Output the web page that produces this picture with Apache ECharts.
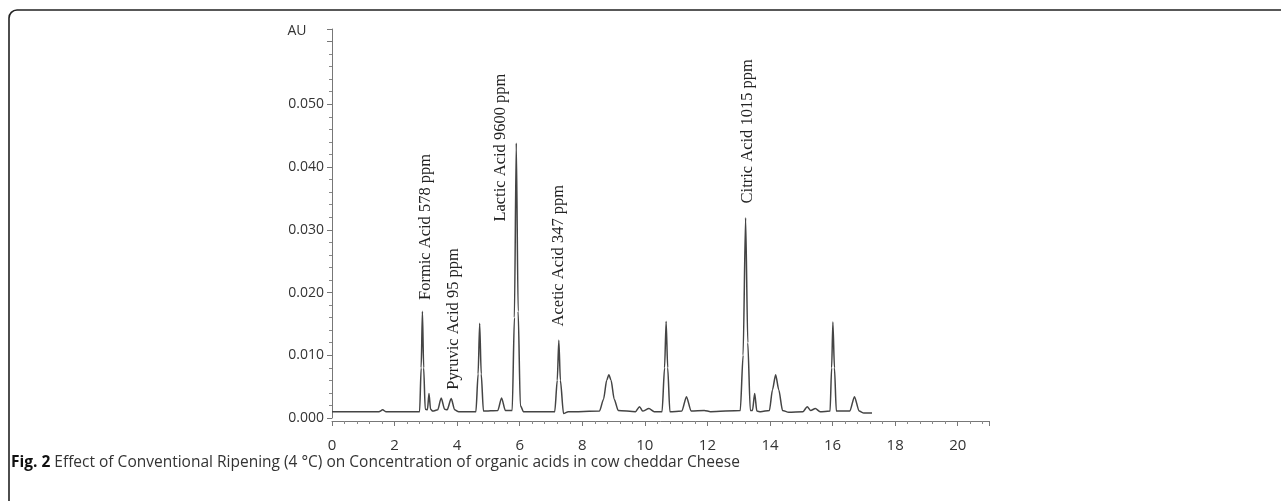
<!DOCTYPE html>
<html>
<head>
<meta charset="utf-8">
<script src="https://cdn.jsdelivr.net/npm/echarts@6/dist/echarts.min.js"></script>
<style>
html,body{margin:0;padding:0;background:#fff;}
#chart{width:1281px;height:501px;}
</style>
</head>
<body>
<div id="chart"></div>
<script>
// Retention time (min) and absorbance (AU)
var rt = [0.00,1.50,1.62,1.72,2.80,2.85,2.89,2.93,2.98,3.05,3.10,3.15,3.22,3.38,3.49,3.60,3.68,3.81,3.92,4.05,
  4.60,4.67,4.72,4.77,4.84,5.30,5.42,5.54,5.76,5.83,5.89,5.95,6.02,6.12,7.12,7.20,7.25,7.30,7.40,7.55,
  8.55,8.68,8.78,8.85,8.92,9.02,9.15,9.70,9.83,9.93,10.13,10.30,10.55,10.63,10.68,10.73,10.80,11.18,11.33,11.48,
  11.90,12.10,13.05,13.14,13.22,13.29,13.37,13.44,13.51,13.58,13.70,13.98,14.08,14.18,14.28,14.40,14.60,15.05,15.19,15.30,
  15.45,15.60,15.92,15.97,16.01,16.06,16.12,16.55,16.70,16.85,17.00,17.26];
var au = [0.0010,0.0010,0.0013,0.0010,0.0010,0.0080,0.0170,0.0080,0.0014,0.0013,0.0039,0.0014,0.0011,0.0013,0.0032,0.0014,0.0013,0.0031,0.0013,0.0010,
  0.0010,0.0070,0.0151,0.0070,0.0011,0.0012,0.0032,0.0012,0.0012,0.0160,0.0438,0.0170,0.0020,0.0010,0.0010,0.0060,0.0124,0.0060,0.0007,0.0010,
  0.0011,0.0030,0.0060,0.0069,0.0060,0.0030,0.0012,0.0010,0.0018,0.0011,0.0015,0.0010,0.0010,0.0080,0.0154,0.0080,0.0010,0.0011,0.0034,0.0011,
  0.0012,0.0010,0.0012,0.0100,0.0319,0.0120,0.0012,0.0012,0.0039,0.0011,0.0010,0.0012,0.0045,0.0069,0.0045,0.0012,0.0009,0.0010,0.0018,0.0012,
  0.0015,0.0010,0.0011,0.0080,0.0153,0.0080,0.0011,0.0011,0.0034,0.0011,0.0008,0.0008];

// Peak annotations: text, retention time of label, AU at label bottom
var peakLabels = ['Formic Acid 578 ppm','Pyruvic Acid 95 ppm','Lactic Acid 9600 ppm','Acetic Acid 347 ppm','Citric Acid 1015 ppm'];
var labelRt = [2.98, 3.90, 5.40, 7.26, 13.29];
var labelAu = [0.0188, 0.0045, 0.0313, 0.0146, 0.0342];

var xTicks = {min: 0, max: 21, interval: 2};
var yTicks = {min: 0, max: 0.062, interval: 0.01};

var caption = 'Effect of Conventional Ripening (4 \u00B0C) on Concentration of organic acids in cow cheddar Cheese';

var chart = echarts.init(document.getElementById('chart'));
var data = rt.map(function (t, i) { return [t, au[i]]; });

chart.setOption({
  animation: false,
  backgroundColor: '#fff',
  grid: {left: 332, right: 292, top: 29, bottom: 83, containLabel: false},
  xAxis: {
    type: 'value', min: xTicks.min, max: xTicks.max, interval: xTicks.interval,
    offset: 3,
    axisLine: {onZero: false, lineStyle: {color: '#777', width: 1}},
    axisTick: {show: true, length: 5, lineStyle: {color: '#777'}},
    minorTick: {show: true, splitNumber: 5, length: 3, lineStyle: {color: '#888'}},
    splitLine: {show: false},
    axisLabel: {
      margin: 17, color: '#333', fontSize: 15, fontFamily: 'Open Sans',
      showMaxLabel: false,
      formatter: function (v) { return v > 20 ? '' : String(v); }
    }
  },
  yAxis: {
    type: 'value', min: yTicks.min, max: yTicks.max, interval: yTicks.interval,
    axisLine: {show: true, lineStyle: {color: '#777', width: 1}},
    axisTick: {show: true, length: 5, lineStyle: {color: '#777'}},
    minorTick: {show: true, splitNumber: 5, length: 3, lineStyle: {color: '#888'}},
    splitLine: {show: false},
    axisLabel: {
      margin: 8, color: '#333', fontSize: 14, fontFamily: 'Open Sans',
      formatter: function (v) { return v > 0.0505 ? '' : v.toFixed(3); }
    }
  },
  series: [{
    type: 'line', data: data, symbol: 'none',
    smooth: 0.25, smoothMonotone: 'x',
    lineStyle: {color: '#444', width: 1.5}
  }]
});

var graphics = [
  {type: 'rect', shape: {x: 9, y: 10, width: 1300, height: 530, r: [8, 0, 0, 0]},
   style: {stroke: '#222', lineWidth: 1.6, fill: null}, silent: true},
  {type: 'text', x: 297, y: 31,
   style: {text: 'AU', fontSize: 14, fontFamily: 'Open Sans', fill: '#333', align: 'center', verticalAlign: 'middle'}},
  {type: 'text', x: 11, y: 463,
   style: {text: '{b|Fig. 2} ' + caption, fontSize: 15.5, fontFamily: 'Open Sans', fill: '#333',
     align: 'left', verticalAlign: 'middle',
     rich: {b: {fontWeight: 'bold', fontSize: 15.5, fontFamily: 'Open Sans', fill: '#111'}}}}
];
peakLabels.forEach(function (txt, i) {
  var p = chart.convertToPixel({gridIndex: 0}, [labelRt[i], labelAu[i]]);
  graphics.push({
    type: 'text', x: p[0], y: p[1], rotation: Math.PI / 2,
    style: {text: txt, fontSize: 16.5, fontFamily: 'Liberation Serif', fill: '#222',
      align: 'left', verticalAlign: 'middle'}
  });
});
chart.setOption({graphic: graphics});
</script>
</body>
</html>
